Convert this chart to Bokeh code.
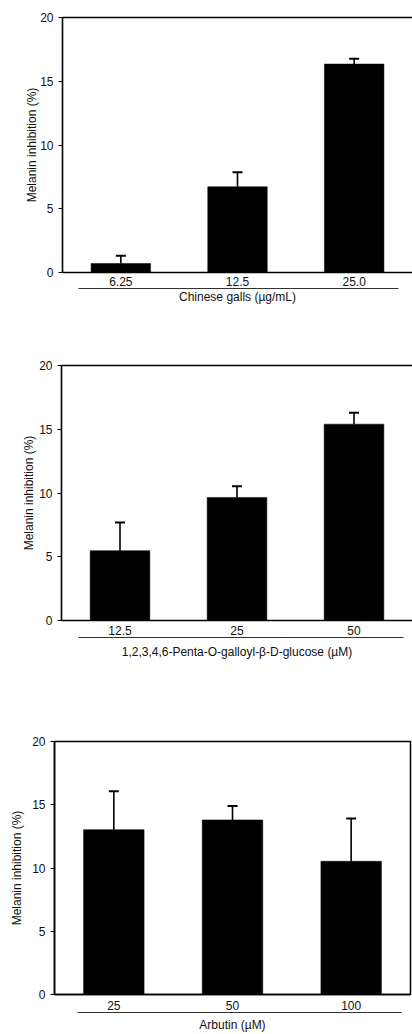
from bokeh.plotting import figure
from bokeh.models import (ColumnDataSource, Range1d, FixedTicker, LinearAxis,
                          Whisker, TeeHead)
from bokeh.embed import file_html
from bokeh.resources import INLINE

# ---- data ----
cats1 = ["6.25", "12.5", "25.0"]
vals1 = [0.71, 6.72, 16.35]
errs1 = [0.60, 1.15, 0.42]
xlabel1 = "Chinese galls (µg/mL)"

cats2 = ["12.5", "25", "50"]
vals2 = [5.48, 9.65, 15.40]
errs2 = [2.21, 0.87, 0.90]
xlabel2 = "1,2,3,4,6-Penta-O-galloyl-β-D-glucose (µM)"

cats3 = ["25", "50", "100"]
vals3 = [13.03, 13.80, 10.53]
errs3 = [3.04, 1.10, 3.39]
xlabel3 = "Arbutin (µM)"

ylabel = "Melanin inhibition (%)"
yticks = [0, 5, 10, 15, 20]

FONT = "Liberation Sans"
FS = "12px"
TXT = "#111111"


def make_panel(cats, vals, errs, xlabel, height, left, right, top, bottom,
               line_bounds, label_standoff, cat_standoff, outline, yl_standoff):
    n = len(cats)
    pos = [i + 0.5 for i in range(n)]
    src = ColumnDataSource(dict(x=pos, top=vals,
                                upper=[v + e for v, e in zip(vals, errs)],
                                lower=vals))
    p = figure(width=412, height=height, output_backend="svg",
               toolbar_location=None, x_range=Range1d(0, n),
               y_range=Range1d(0, 20), x_axis_type=None,
               min_border_left=left, min_border_right=right,
               min_border_top=top, min_border_bottom=bottom)
    p.background_fill_color = "white"
    p.border_fill_color = "white"
    p.xgrid.grid_line_color = None
    p.ygrid.grid_line_color = None
    if outline:
        p.outline_line_color = "black"
        p.outline_line_width = 1.5
    else:
        p.outline_line_color = None
        topax = LinearAxis(ticker=FixedTicker(ticks=[]), axis_line_width=1.5,
                           axis_line_color="black", major_tick_line_color=None,
                           minor_tick_line_color=None)
        p.add_layout(topax, "above")

    p.vbar(x="x", top="top", width=0.51, bottom=0, source=src,
           fill_color="black", line_color="black", line_width=0.5)
    w = Whisker(source=src, base="x", upper="upper", lower="lower",
                dimension="height", line_color="black", line_width=1.6,
                upper_head=TeeHead(size=10, line_width=2, line_color="black"),
                lower_head=None)
    p.add_layout(w)

    # y axis
    ya = p.yaxis[0]
    ya.ticker = FixedTicker(ticks=yticks)
    ya.axis_line_width = 1.6
    ya.axis_line_color = "black"
    ya.major_tick_in = 0
    ya.major_tick_out = 4
    ya.major_tick_line_color = "black"
    ya.minor_tick_line_color = None
    ya.major_label_standoff = 5
    ya.major_label_text_font = FONT
    ya.major_label_text_font_size = FS
    ya.major_label_text_color = TXT
    ya.axis_label = ylabel
    ya.axis_label_text_font = FONT
    ya.axis_label_text_font_size = FS
    ya.axis_label_text_font_style = "normal"
    ya.axis_label_text_color = TXT
    ya.axis_label_standoff = yl_standoff

    # category axis
    xa = LinearAxis(ticker=FixedTicker(ticks=pos),
                    major_label_overrides={x: c for x, c in zip(pos, cats)},
                    axis_line_width=1.6, axis_line_color="black",
                    major_tick_in=0, major_tick_out=0,
                    major_tick_line_color=None, minor_tick_line_color=None,
                    major_label_standoff=cat_standoff,
                    major_label_text_font=FONT, major_label_text_font_size=FS,
                    major_label_text_color=TXT)
    p.add_layout(xa, "below")

    # title axis with partial line
    xa2 = LinearAxis(ticker=FixedTicker(ticks=[]), bounds=line_bounds,
                     axis_line_width=1, axis_line_color="#333333",
                     major_tick_line_color=None, minor_tick_line_color=None,
                     axis_label=xlabel, axis_label_standoff=label_standoff,
                     axis_label_text_font=FONT, axis_label_text_font_size=FS,
                     axis_label_text_font_style="normal",
                     axis_label_text_color=TXT)
    p.add_layout(xa2, "below")
    return p


p1 = make_panel(cats1, vals1, errs1, xlabel1, 318, 62, 0, 17, 46,
                (0.14, 2.88), 1, 4, False, -2)
p2 = make_panel(cats2, vals2, errs2, xlabel2, 372, 61, 0, 47, 70,
                (0.145, 2.92), 7, 5, False, 0)
p3 = make_panel(cats3, vals3, errs3, xlabel3, 344, 54, 2, 51, 37,
                (0.19, 2.92), 5, 6, True, 5)

open("out.html", "w").write(file_html([p1, p2, p3], INLINE))
